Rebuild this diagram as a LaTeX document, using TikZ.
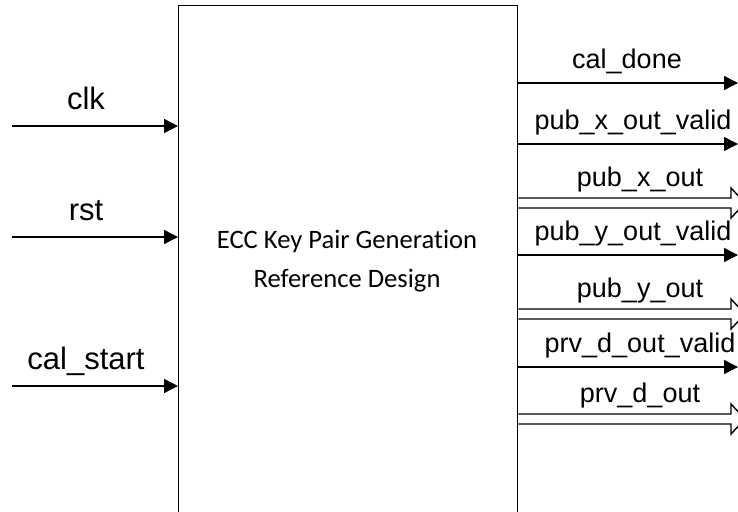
\documentclass[tikz,border=0pt]{standalone}
\usepackage{fontspec}
\setmainfont{Liberation Sans}
\newfontfamily\calibri[Ligatures=NoCommon]{Carlito}
\usetikzlibrary{arrows.meta}

\begin{document}
\begin{tikzpicture}[x=1pt, y=-1pt, line width=1.4pt, font=\fontsize{27}{38}\selectfont,
  sig/.style={-{Triangle[length=14pt,width=14pt]}},
  lab/.style={anchor=base, inner sep=0pt}]

\useasboundingbox (0,0) rectangle (738,511);
\clip (0,0) rectangle (738,511);

% core block, open at the bottom
\node[draw, anchor=north west, inner sep=0pt, minimum width=339pt, minimum height=540pt] (ecc) at (178,5) {};
\node[align=center, font=\calibri\fontsize{26.6}{39}\selectfont] (title) at (347,261) {ECC Key Pair Generation\\Reference Design};

% inputs
\foreach \nm/\y/\txt in {clk/126/clk, rst/237/rst, start/386/cal\_start}{
  \coordinate (\nm) at (12,\y);
  \draw[sig] (\nm) -- (\nm -| ecc.west);
  \node[lab, font=\fontsize{31}{38}\selectfont] (\nm-lab) at (86,\y-17) {\txt};
}

% single-bit outputs
\foreach \nm/\y/\x/\txt in {done/83/627/cal\_done, pubxv/144/633/pub\_x\_out\_valid,
                            pubyv/255/633/pub\_y\_out\_valid, prvdv/367/640/prv\_d\_out\_valid}{
  \coordinate (\nm) at (738,\y);
  \draw[sig] (\nm -| ecc.east) -- (\nm);
  \node[lab] (\nm-lab) at (\x,\y-15) {\txt};
}

% bus outputs
\foreach \nm/\y/\txt in {pubx/198/pub\_x\_out, puby/309/pub\_y\_out, prvd/414/prv\_d\_out}{
  \coordinate (\nm) at (731,\y);
  \coordinate (\nm-b) at (731,\y+10);
  \draw (\nm -| ecc.east) -- (\nm) -- ++(0,-10) -- ++(14,15) -- ++(-14,15) -- (\nm-b) -- (\nm-b -| ecc.east);
  \node[lab] (\nm-lab) at (640,\y-12) {\txt};
}

\end{tikzpicture}
\end{document}
